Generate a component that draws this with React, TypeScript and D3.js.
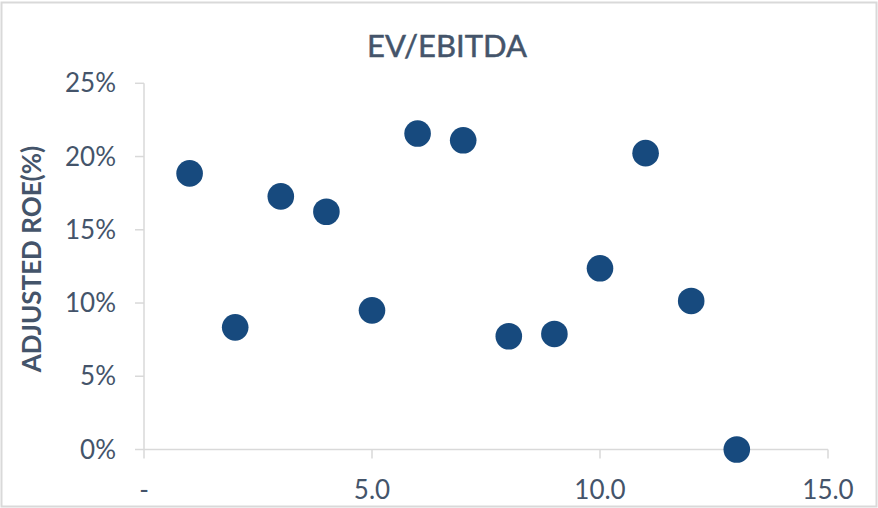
import React from "react";
import * as d3 from "d3";

const evEbitda: number[] = [1, 2, 3, 4, 5, 6, 7, 8, 9, 10, 11, 12, 13];
const adjustedRoe: number[] = [0.1885, 0.0834, 0.1728, 0.1623, 0.095, 0.2157, 0.2111, 0.0773, 0.0789, 0.1237, 0.2023, 0.1014, 0.0];
const xTicks: number[] = [0, 5, 10, 15];
const yTicks: number[] = [0, 0.05, 0.1, 0.15, 0.2, 0.25];
const chartTitle = "EV/EBITDA";
const yAxisTitle = "ADJUSTED ROE(%)";

const W = 878;
const H = 508;
const textColor = "#44546a";
const axisColor = "#d9d9d9";
const dotColor = "#174a7e";
const font = "Lato, 'Open Sans', sans-serif";

export default function App() {
  const x = d3.scaleLinear().domain([0, 15]).range([144, 828]);
  const y = d3.scaleLinear().domain([0, 0.25]).range([449.5, 83.3]);
  const xFmt = (v: number) => (v === 0 ? "-" : d3.format(".1f")(v));
  const yFmt = d3.format(".0%");

  return (
    <svg
      width={W}
      height={H}
      style={{ position: "absolute", left: 0, top: 0, background: "#fff" }}
    >
      <rect x={1.5} y={2.5} width={W - 3} height={H - 4} fill="#fff" stroke={axisColor} strokeWidth={2} />
      <text x={447} y={57} textAnchor="middle" fontFamily={font} fontSize={31} fill={textColor} stroke={textColor} strokeWidth={0.5}>
        {chartTitle}
      </text>
      <text
        transform={`translate(41,259) rotate(-90)`}
        textAnchor="middle"
        fontFamily={font}
        fontWeight="bold"
        fontSize={26}
        fill={textColor}
      >
        {yAxisTitle}
      </text>
      {/* y axis */}
      <line x1={x(0)} x2={x(0)} y1={y(0.25)} y2={y(0)} stroke={axisColor} strokeWidth={1.5} />
      {yTicks.map((t) => (
        <g key={"y" + t}>
          <line x1={x(0) - 9} x2={x(0)} y1={y(t)} y2={y(t)} stroke={axisColor} strokeWidth={1.5} />
          <text
            x={116}
            y={y(t)}
            dy="0.35em"
            textAnchor="end"
            fontFamily={font}
            fontSize={26}
            fill={textColor}
          >
            {yFmt(t)}
          </text>
        </g>
      ))}
      {/* x axis */}
      <line x1={x(0)} x2={x(15)} y1={y(0)} y2={y(0)} stroke={axisColor} strokeWidth={1.5} />
      {xTicks.map((t) => (
        <g key={"x" + t}>
          <line x1={x(t)} x2={x(t)} y1={y(0)} y2={y(0) + 9} stroke={axisColor} strokeWidth={1.5} />
          <text
            x={x(t)}
            y={490}
            dy="0.35em"
            textAnchor="middle"
            fontFamily={font}
            fontSize={26}
            fill={textColor}
          >
            {xFmt(t)}
          </text>
        </g>
      ))}
      {evEbitda.map((v, i) => (
        <circle key={i} cx={x(v)} cy={y(adjustedRoe[i])} r={13.3} fill={dotColor} />
      ))}
    </svg>
  );
}
